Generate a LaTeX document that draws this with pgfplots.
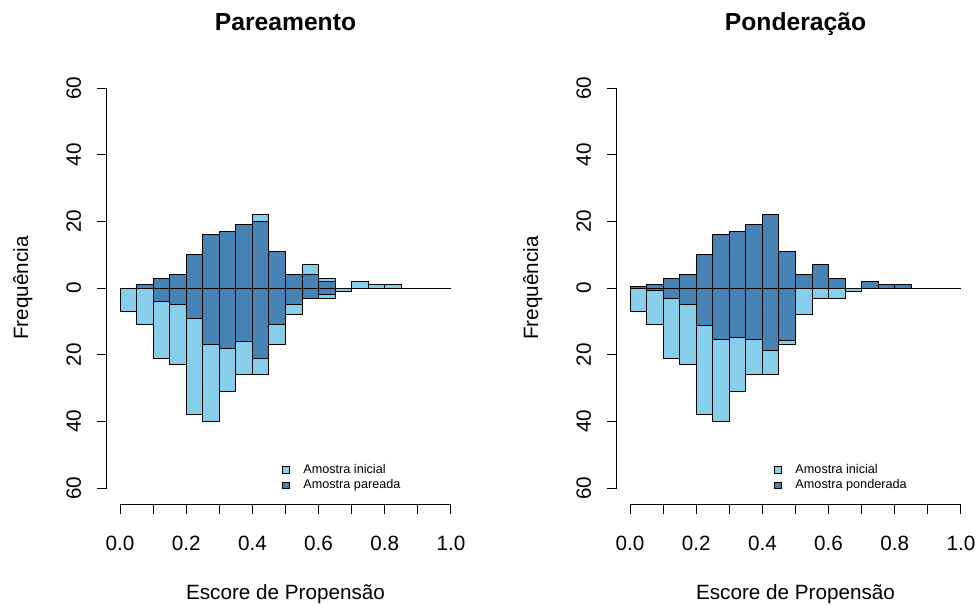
\documentclass[border=0pt]{standalone}
\usepackage{fontspec}
\setmainfont{Liberation Sans}
\usepackage{pgfplots}
\pgfplotsset{compat=1.18}
\definecolor{skyb}{HTML}{87CEEB}
\definecolor{steelb}{HTML}{4682B4}
\pgfplotsset{
  rstyle/.style={
    scale only axis, width=268.05pt, height=324pt,
    xmin=-0.04, xmax=1.04, ymin=-64.8, ymax=64.8,
    axis line style={draw=none},
    tick align=outside, xtick pos=left, ytick pos=left,
    major tick length=7.5pt,
    tick style={black, line width=0.75pt},
    xtick={0,0.1,0.2,0.3,0.4,0.5,0.6,0.7,0.8,0.9,1},
    xticklabels={0.0,,0.2,,0.4,,0.6,,0.8,,1.0},
    ytick={-60,-40,-20,0,20,40,60},
    yticklabels={60,40,20,0,20,40,60},
    tick label style={font=\fontsize{15.5}{18}\selectfont},
    xticklabel style={anchor=base, yshift=-27pt},
    yticklabel style={rotate=90, anchor=base, yshift=12pt},
    clip=false,
    xlabel={Escore de Propensão}, ylabel={Frequência},
    label style={font=\fontsize{15.5}{18}\selectfont},
    xlabel style={at={(axis description cs:0.5,0)}, anchor=base, yshift=-71.5pt},
    ylabel style={at={([xshift=-59pt]axis description cs:0,0.5)}, rotate=0, anchor=base},
    title style={font=\bfseries\fontsize{18.5}{22}\selectfont, at={(axis description cs:0.5,1)}, anchor=base, yshift=24.75pt},
    legend style={draw=none, fill=none, font=\fontsize{9.5}{11}\selectfont, anchor=north west, inner sep=0pt, row sep=1.2pt,
      nodes={inner sep=1pt},
      /tikz/every odd column/.append style={column sep=9.5pt}},
    legend cell align=left,
  },
  barL/.style={ybar interval, fill=skyb, draw=black, line width=0.75pt,
    legend image code/.code={\draw[fill=skyb, draw=black, line width=0.6pt] (0pt,-2.4pt) rectangle (4.8pt,2.4pt);}},
  barD/.style={ybar interval, fill=steelb, draw=black, line width=0.75pt,
    legend image code/.code={\draw[fill=steelb, draw=black, line width=0.6pt] (0pt,-2.4pt) rectangle (4.8pt,2.4pt);}},
}
\begin{document}
\begin{tikzpicture}
\path[use as bounding box] (0,0) rectangle (732.75pt,-454.5pt);
% ---------------- Pareamento
\begin{axis}[rstyle, at={(80.1pt,-54pt)}, anchor=north west, title={Pareamento},
  legend style={at={(axis cs:0.489,-52.4)}}]
\addplot[barL] coordinates {(0,0)(0.05,1)(0.1,3)(0.15,4)(0.2,10)(0.25,16)(0.3,17)(0.35,19)(0.4,22)(0.45,11)(0.5,4)(0.55,7)(0.6,3)(0.65,0)(0.7,2)(0.75,1)(0.8,1)(0.85,0)};
\addlegendentry{Amostra inicial}
\addplot[barD] coordinates {(0,0)(0.05,1)(0.1,3)(0.15,4)(0.2,10)(0.25,16)(0.3,17)(0.35,19)(0.4,20)(0.45,11)(0.5,4)(0.55,4)(0.6,2)(0.65,0)};
\addlegendentry{Amostra pareada}
\addplot[barL, forget plot] coordinates {(0,-7)(0.05,-11)(0.1,-21)(0.15,-23)(0.2,-38)(0.25,-40)(0.3,-31)(0.35,-26)(0.4,-26)(0.45,-17)(0.5,-8)(0.55,-3)(0.6,-3)(0.65,-1)(0.7,0)};
\addplot[barD, forget plot] coordinates {(0.1,-4)(0.15,-5)(0.2,-9)(0.25,-17)(0.3,-18)(0.35,-16)(0.4,-21)(0.45,-11)(0.5,-5)(0.55,-3)(0.6,-2)(0.65,0)};
\draw[line width=0.75pt] (axis cs:0,0) -- (axis cs:1,0);
\draw[line width=0.75pt] (axis cs:0,-64.8) -- (axis cs:1,-64.8);
\draw[line width=0.75pt] (axis cs:-0.04,-60) -- (axis cs:-0.04,60);
\end{axis}
% ---------------- Ponderacao
\begin{axis}[rstyle, at={(462.6pt,-54pt)}, anchor=north west, title={Ponderação},
  legend style={at={(axis cs:0.435,-52.4)}}]
\addplot[barL] coordinates {(0,0)(0.05,1)(0.1,3)(0.15,4)(0.2,10)(0.25,16)(0.3,17)(0.35,19)(0.4,22)(0.45,11)(0.5,4)(0.55,7)(0.6,3)(0.65,0)(0.7,2)(0.75,1)(0.8,1)(0.85,0)};
\addlegendentry{Amostra inicial}
\addplot[barD] coordinates {(0,0.4)(0.05,1)(0.1,3)(0.15,4)(0.2,10)(0.25,16)(0.3,17)(0.35,19)(0.4,22)(0.45,11)(0.5,4)(0.55,7)(0.6,3)(0.65,0)(0.7,2)(0.75,1)(0.8,1)(0.85,0)};
\addlegendentry{Amostra ponderada}
\addplot[barL, forget plot] coordinates {(0,-7)(0.05,-11)(0.1,-21)(0.15,-23)(0.2,-38)(0.25,-40)(0.3,-31)(0.35,-26)(0.4,-26)(0.45,-17)(0.5,-8)(0.55,-3)(0.6,-3)(0.65,-1)(0.7,0)};
\addplot[barD, forget plot] coordinates {(0.05,-0.7)(0.1,-3)(0.15,-5)(0.2,-11.2)(0.25,-15.3)(0.3,-14.8)(0.35,-15.3)(0.4,-18.8)(0.45,-15.8)(0.5,0)};
\draw[line width=0.75pt] (axis cs:0,0) -- (axis cs:1,0);
\draw[line width=0.75pt] (axis cs:0,-64.8) -- (axis cs:1,-64.8);
\draw[line width=0.75pt] (axis cs:-0.04,-60) -- (axis cs:-0.04,60);
\end{axis}
\end{tikzpicture}
\end{document}
